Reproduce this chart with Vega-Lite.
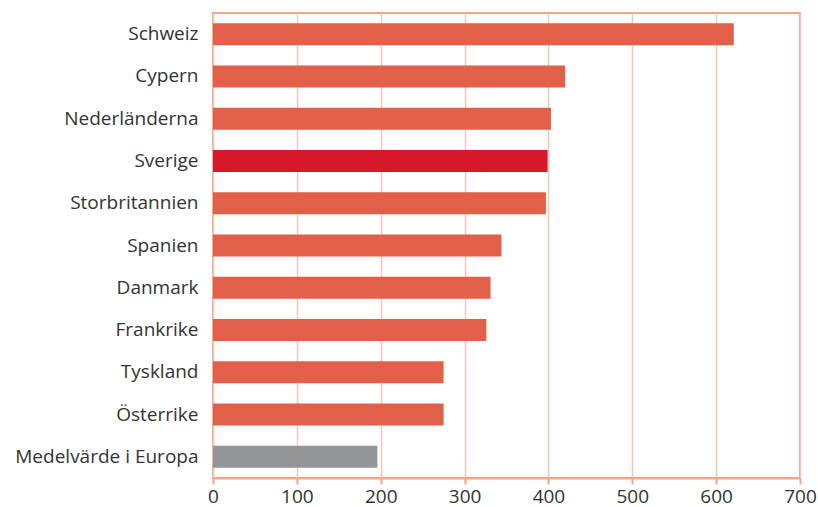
{
  "$schema": "https://vega.github.io/schema/vega-lite/v6.json",
  "width": 587,
  "height": 465,
  "autosize": "none",
  "padding": {"left": 213, "top": 13, "right": 18, "bottom": 29},
  "background": "white",
  "config": {
    "view": {"stroke": "#F2A48C", "strokeWidth": 2},
    "font": "Open Sans"
  },
  "data": {
    "values": [
      {"land": "Schweiz", "varde": 621, "typ": "land"},
      {"land": "Cypern", "varde": 420, "typ": "land"},
      {"land": "Nederländerna", "varde": 403, "typ": "land"},
      {"land": "Sverige", "varde": 399, "typ": "sverige"},
      {"land": "Storbritannien", "varde": 397, "typ": "land"},
      {"land": "Spanien", "varde": 344, "typ": "land"},
      {"land": "Danmark", "varde": 331, "typ": "land"},
      {"land": "Frankrike", "varde": 326, "typ": "land"},
      {"land": "Tyskland", "varde": 275, "typ": "land"},
      {"land": "Österrike", "varde": 275, "typ": "land"},
      {"land": "Medelvärde i Europa", "varde": 196, "typ": "medel"}
    ]
  },
  "mark": {"type": "bar"},
  "encoding": {
    "y": {
      "field": "land",
      "type": "nominal",
      "sort": null,
      "scale": {"paddingInner": 0.48, "paddingOuter": 0.24},
      "axis": {
        "title": null,
        "ticks": false,
        "domain": false,
        "labelFontSize": 19,
        "labelColor": "#333333",
        "labelPadding": 15,
        "labelLimit": 300
      }
    },
    "x": {
      "field": "varde",
      "type": "quantitative",
      "scale": {"domain": [0, 700], "nice": false},
      "axis": {
        "title": null,
        "values": [0, 100, 200, 300, 400, 500, 600, 700],
        "grid": true,
        "gridColor": "#F8C6B6",
        "gridWidth": 1.5,
        "domainColor": "#F2A48C",
        "domainWidth": 2,
        "tickColor": "#F2A48C",
        "tickWidth": 2,
        "tickSize": 6,
        "labelFontSize": 19,
        "labelColor": "#333333",
        "labelPadding": 3,
        "labelFlush": false
      }
    },
    "color": {
      "field": "typ",
      "type": "nominal",
      "scale": {"domain": ["land", "sverige", "medel"], "range": ["#E2604A", "#D7182A", "#939598"]},
      "legend": null
    }
  }
}
